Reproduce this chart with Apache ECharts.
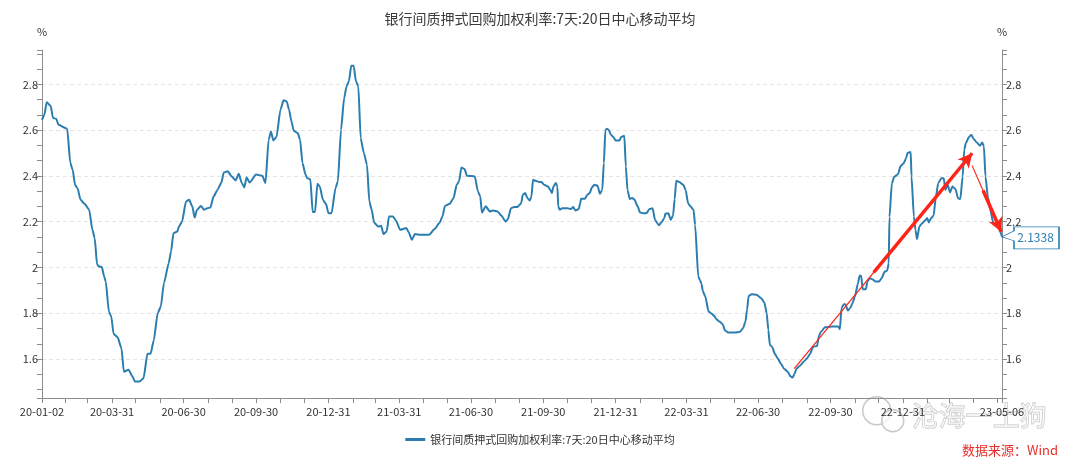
<!DOCTYPE html>
<html><head><meta charset="utf-8">
<script src="https://cdn.jsdelivr.net/npm/echarts@6/dist/echarts.min.js"></script>
<style>html,body{margin:0;padding:0;background:#fff}#c{width:1080px;height:464px}</style>
</head><body><div id="c"></div>
<script>
const seriesName = '银行间质押式回购加权利率:7天:20日中心移动平均';

const dates = [
'2020-01-02','2020-01-05','2020-01-08','2020-01-13','2020-01-16','2020-01-20','2020-01-23','2020-02-03','2020-02-07','2020-02-10',
'2020-02-13','2020-02-16','2020-02-20','2020-02-25','2020-03-02','2020-03-06','2020-03-09','2020-03-12','2020-03-15','2020-03-18',
'2020-03-21','2020-03-23','2020-03-27','2020-03-30','2020-04-02','2020-04-07','2020-04-12','2020-04-15','2020-04-21','2020-04-26',
'2020-04-29','2020-05-05','2020-05-10','2020-05-15','2020-05-19','2020-05-23','2020-05-28','2020-06-01','2020-06-05','2020-06-11',
'2020-06-14','2020-06-17','2020-06-22','2020-06-24','2020-06-28','2020-07-03','2020-07-07','2020-07-11','2020-07-14','2020-07-17',
'2020-07-22','2020-07-26','2020-07-30','2020-08-03','2020-08-07','2020-08-12','2020-08-17','2020-08-20','2020-08-25','2020-08-30',
'2020-09-04','2020-09-08','2020-09-12','2020-09-15','2020-09-18','2020-09-22','2020-09-30','2020-10-08','2020-10-12','2020-10-16',
'2020-10-19','2020-10-22','2020-10-26','2020-10-31','2020-11-04','2020-11-08','2020-11-11','2020-11-14','2020-11-17','2020-11-22',
'2020-11-25','2020-11-28','2020-12-02','2020-12-04','2020-12-08','2020-12-11','2020-12-14','2020-12-17','2020-12-20','2020-12-24',
'2020-12-28','2020-12-31',
'2021-01-04','2021-01-09','2021-01-12','2021-01-16','2021-01-20','2021-01-23','2021-01-26','2021-01-29','2021-02-01','2021-02-04',
'2021-02-07','2021-02-10','2021-02-14','2021-02-18','2021-02-21','2021-02-24','2021-02-27','2021-03-04','2021-03-08','2021-03-11',
'2021-03-15','2021-03-18','2021-03-23','2021-03-27','2021-04-01','2021-04-09','2021-04-12','2021-04-16','2021-04-20','2021-04-27',
'2021-05-02','2021-05-08','2021-05-15','2021-05-21','2021-05-25','2021-05-28','2021-06-03','2021-06-08','2021-06-12','2021-06-15',
'2021-06-18','2021-06-22','2021-06-25','2021-07-05','2021-07-09','2021-07-12','2021-07-14','2021-07-19','2021-07-24','2021-07-28',
'2021-08-03','2021-08-08','2021-08-13','2021-08-16','2021-08-20','2021-08-24','2021-08-28','2021-08-31','2021-09-02','2021-09-04',
'2021-09-07','2021-09-10','2021-09-13','2021-09-15','2021-09-17','2021-09-20','2021-09-25','2021-09-28','2021-10-01','2021-10-06',
'2021-10-09','2021-10-11','2021-10-13','2021-10-16','2021-10-18','2021-10-19','2021-10-21','2021-10-24','2021-10-31','2021-11-04',
'2021-11-07','2021-11-10','2021-11-14','2021-11-16','2021-11-17','2021-11-22','2021-11-25','2021-11-28','2021-12-01','2021-12-04',
'2021-12-08','2021-12-11','2021-12-14','2021-12-16','2021-12-18','2021-12-20','2021-12-22','2021-12-25','2021-12-28','2021-12-31',
'2022-01-05','2022-01-07','2022-01-11','2022-01-13','2022-01-15','2022-01-18','2022-01-21','2022-01-24','2022-01-28','2022-01-31',
'2022-02-04','2022-02-08','2022-02-12','2022-02-16','2022-02-19','2022-02-24','2022-02-27','2022-03-03','2022-03-04','2022-03-08',
'2022-03-11','2022-03-14','2022-03-16','2022-03-18','2022-03-22','2022-03-27','2022-03-30','2022-04-02','2022-04-05','2022-04-09',
'2022-04-11','2022-04-15','2022-04-17','2022-04-19','2022-04-21','2022-04-24','2022-04-28','2022-05-02','2022-05-05','2022-05-08',
'2022-05-12','2022-05-16','2022-05-19','2022-05-23','2022-06-01','2022-06-07','2022-06-11','2022-06-14','2022-06-16','2022-06-18',
'2022-06-22','2022-06-28','2022-07-04','2022-07-08','2022-07-11','2022-07-13','2022-07-15','2022-07-18','2022-07-21','2022-07-25',
'2022-07-29','2022-08-02','2022-08-07','2022-08-10','2022-08-13','2022-08-15','2022-08-18','2022-08-22','2022-08-27','2022-08-31',
'2022-09-04','2022-09-08','2022-09-13','2022-09-15','2022-09-18','2022-09-23','2022-10-02','2022-10-10','2022-10-12','2022-10-14',
'2022-10-17','2022-10-19','2022-10-22','2022-10-25','2022-10-28','2022-10-31','2022-11-04','2022-11-06','2022-11-08','2022-11-10',
'2022-11-14','2022-11-16','2022-11-19','2022-11-22','2022-11-26','2022-12-01','2022-12-04','2022-12-08','2022-12-11','2022-12-13',
'2022-12-14','2022-12-17','2022-12-20','2022-12-25','2022-12-28',
'2023-01-01','2023-01-04','2023-01-06','2023-01-10','2023-01-11','2023-01-14','2023-01-16','2023-01-18','2023-01-21','2023-01-24',
'2023-01-28','2023-01-31','2023-02-02','2023-02-05','2023-02-08','2023-02-11','2023-02-14','2023-02-18','2023-02-21','2023-02-23',
'2023-02-26','2023-03-01','2023-03-04','2023-03-08','2023-03-11','2023-03-14','2023-03-17','2023-03-19','2023-03-21','2023-03-25',
'2023-03-28','2023-03-31','2023-04-04','2023-04-08','2023-04-11','2023-04-13','2023-04-15','2023-04-18','2023-04-21','2023-04-25',
'2023-04-30','2023-05-03','2023-05-06'
];

const rates = [
2.645,2.667,2.722,2.706,2.653,2.650,2.623,2.606,2.456,2.427,
2.361,2.347,2.296,2.278,2.252,2.165,2.128,2.012,2.004,2.002,
1.961,1.939,1.808,1.786,1.710,1.696,1.647,1.545,1.553,1.524,
1.502,1.502,1.516,1.623,1.623,1.681,1.800,1.830,1.932,2.019,
2.070,2.150,2.157,2.179,2.201,2.288,2.296,2.267,2.218,2.252,
2.269,2.252,2.259,2.262,2.310,2.339,2.371,2.415,2.420,2.398,
2.380,2.409,2.369,2.350,2.393,2.371,2.406,2.401,2.369,2.558,
2.594,2.555,2.570,2.689,2.730,2.725,2.689,2.638,2.597,2.587,
2.558,2.456,2.405,2.390,2.386,2.242,2.242,2.366,2.354,2.296,
2.277,2.237,
2.237,2.347,2.376,2.602,2.740,2.791,2.813,2.881,2.881,2.813,
2.791,2.565,2.500,2.449,2.288,2.252,2.197,2.179,2.182,2.146,
2.157,2.223,2.223,2.204,2.165,2.172,2.154,2.121,2.146,2.143,
2.143,2.143,2.168,2.194,2.223,2.269,2.278,2.303,2.361,2.376,
2.437,2.430,2.401,2.398,2.332,2.310,2.240,2.267,2.245,2.249,
2.245,2.226,2.201,2.211,2.259,2.264,2.264,2.274,2.281,2.318,
2.325,2.303,2.293,2.310,2.383,2.379,2.373,2.373,2.361,2.354,
2.339,2.325,2.354,2.369,2.354,2.267,2.252,2.259,2.259,2.255,
2.264,2.249,2.255,2.281,2.300,2.300,2.318,2.325,2.351,2.361,
2.357,2.322,2.339,2.456,2.602,2.606,2.602,2.580,2.570,2.555,
2.555,2.570,2.575,2.441,2.339,2.299,2.304,2.296,2.267,2.240,
2.237,2.237,2.255,2.259,2.208,2.184,2.197,2.216,2.235,2.237,
2.208,2.227,2.299,2.379,2.373,2.361,2.339,2.281,2.267,2.252,
2.186,1.961,1.946,1.929,1.895,1.873,1.808,1.798,1.790,1.774,
1.764,1.752,1.725,1.716,1.716,1.719,1.735,1.764,1.815,1.876,
1.883,1.881,1.866,1.847,1.800,1.728,1.662,1.653,1.625,1.603,
1.580,1.558,1.544,1.525,1.519,1.534,1.559,1.570,1.589,1.603,
1.622,1.654,1.657,1.698,1.719,1.739,1.742,1.742,1.730,1.822,
1.840,1.840,1.812,1.822,1.844,1.872,1.931,1.964,1.964,1.905,
1.905,1.939,1.953,1.949,1.939,1.939,1.953,1.982,1.986,2.017,
2.221,2.367,2.396,2.408,2.443,
2.455,2.476,2.501,2.504,2.397,2.223,2.165,2.124,2.179,2.191,
2.205,2.216,2.197,2.216,2.226,2.310,2.369,2.390,2.390,2.339,
2.361,2.328,2.354,2.342,2.303,2.299,2.397,2.514,2.543,2.570,
2.580,2.561,2.546,2.532,2.546,2.529,2.397,2.310,2.252,2.194,
2.179,2.165,2.1338
];

const xLabelDates = ['2020-01-02','2020-03-31','2020-06-30','2020-09-30','2020-12-31','2021-03-31','2021-06-30',
  '2021-09-30','2021-12-31','2022-03-31','2022-06-30','2022-09-30','2022-12-31','2023-05-06'];
const xTickDates = ['2020-01-02','2020-01-31','2020-02-29','2020-03-31','2020-04-30','2020-05-31','2020-06-30','2020-07-31',
  '2020-08-31','2020-09-30','2020-10-31','2020-11-30','2020-12-31','2021-01-31','2021-02-28','2021-03-31','2021-04-30',
  '2021-05-31','2021-06-30','2021-07-31','2021-08-31','2021-09-30','2021-10-31','2021-11-30','2021-12-31','2022-01-31',
  '2022-02-28','2022-03-31','2022-04-30','2022-05-31','2022-06-30','2022-07-31','2022-08-31','2022-09-30','2022-10-31',
  '2022-11-30','2022-12-31','2023-01-31','2023-02-28','2023-03-31','2023-04-30','2023-05-06'];

// annotation arrows: [start, taperPoint, end] as [date, value]
const arrowUp = [['2022-08-15', 1.558], ['2022-11-24', 1.979], ['2023-03-29', 2.499]];
const arrowDown = [['2023-03-29', 2.445], ['2023-04-12', 2.336], ['2023-05-05', 2.156]];

const sourceText = '数据来源：Wind';
const watermarkText = '沧海一土狗';

function ts(s) { const p = s.split('-').map(Number); return new Date(p[0], p[1] - 1, p[2]).getTime(); }
function fmtDate(v) {
  const d = new Date(v);
  const p = n => (n < 10 ? '0' : '') + n;
  return p(d.getFullYear() % 100) + '-' + p(d.getMonth() + 1) + '-' + p(d.getDate());
}

const LINE = '#2b7db0';
const RED = '#ff2418';
const AX = '#8c8c8c';
const FONT = '"Noto Sans CJK SC", "Noto Sans", sans-serif';

const seriesData = dates.map((d, i) => [ts(d), rates[i]]);
const last = seriesData[seriesData.length - 1];
const pt = a => [ts(a[0]), a[1]];

function yAxisCfg(pos) {
  return {
    type: 'value', position: pos, min: 1.43, max: 2.95, splitNumber: 7, minInterval: 0.2, maxInterval: 0.2,
    name: '%', nameGap: 13, nameTextStyle: { color: '#333', fontSize: 11 },
    axisLine: { show: true, lineStyle: { color: AX } },
    axisTick: { show: true, length: 5, lineStyle: { color: AX } },
    minorTick: { show: true, splitNumber: 3, length: 5, lineStyle: { color: AX } },
    axisLabel: { color: '#333', fontSize: 11, margin: 4, showMinLabel: false, showMaxLabel: false },
    splitLine: pos === 'left'
      ? { show: true, showMinLine: false, showMaxLine: false, lineStyle: { color: '#e4e4e4', type: [4, 3] } }
      : { show: false }
  };
}

const chart = echarts.init(document.getElementById('c'), null, { renderer: 'canvas' });
chart.setOption({
  animation: false,
  backgroundColor: '#fff',
  textStyle: { fontFamily: FONT },
  title: { text: seriesName, left: 'center', top: 7, textStyle: { fontSize: 14, fontWeight: 'normal', color: '#3a3a3a' } },
  legend: { data: [seriesName], top: 429, left: 'center', icon: 'rect', itemWidth: 20, itemHeight: 3,
    textStyle: { fontSize: 11, color: '#333' } },
  grid: { left: 42, right: 78, top: 50, bottom: 66, containLabel: false },
  xAxis: {
    type: 'value', min: ts('2020-01-02'), max: ts('2023-05-06'), scale: true,
    axisLine: { show: true, onZero: false, lineStyle: { color: AX } },
    axisTick: { show: true, length: 5, customValues: xTickDates.map(ts), lineStyle: { color: AX } },
    axisLabel: { customValues: xLabelDates.map(ts), formatter: v => fmtDate(v), color: '#333', fontSize: 11, margin: 8, hideOverlap: false },
    splitLine: { show: false }
  },
  yAxis: [yAxisCfg('left'), yAxisCfg('right')],
  series: [{
    name: seriesName, type: 'line', yAxisIndex: 0, data: seriesData, showSymbol: false,
    smooth: 0.2, smoothMonotone: 'x',
    lineStyle: { color: LINE, width: 2 }, itemStyle: { color: LINE },
    markPoint: {
      silent: true,
      symbol: 'path://M0,10 L12,4 L12,0 L57,0 L57,22 L12,22 L12,14 Z',
      symbolSize: [57, 22], symbolOffset: [28.5, 1], symbolKeepAspect: false,
      itemStyle: { color: '#fff', borderColor: LINE, borderWidth: 1 },
      label: { show: true, position: 'inside', offset: [5, 0], color: LINE, fontSize: 12, formatter: p => Number(p.value).toFixed(4) },
      data: [{ coord: last, value: last[1] }]
    },
    markLine: {
      silent: true, animation: false,
      label: { show: false },
      emphasis: { disabled: true },
      lineStyle: { color: RED, type: 'solid' },
      data: [
        [{ coord: pt(arrowUp[0]), symbol: 'none', lineStyle: { width: 1.2, color: RED, type: 'solid' } },
         { coord: pt(arrowUp[2]), symbol: 'none' }],
        [{ coord: pt(arrowUp[1]), symbol: 'none', lineStyle: { width: 3.5, color: RED, type: 'solid' } },
         { coord: pt(arrowUp[2]), symbol: 'arrow', symbolSize: [11, 14] }],
        [{ coord: pt(arrowDown[0]), symbol: 'none', lineStyle: { width: 1.2, color: RED, type: 'solid' } },
         { coord: pt(arrowDown[2]), symbol: 'none' }],
        [{ coord: pt(arrowDown[1]), symbol: 'none', lineStyle: { width: 3.5, color: RED, type: 'solid' } },
         { coord: pt(arrowDown[2]), symbol: 'arrow', symbolSize: [11, 14] }]
      ]
    }
  }],
  graphic: [
    { type: 'text', right: 22, top: 444, silent: true,
      style: { text: sourceText, fill: '#e8302a', fontSize: 13, fontFamily: FONT } },
    { type: 'group', left: 862, top: 396, silent: true, z: 100, children: [
      { type: 'circle', shape: { cx: 17, cy: 15, r: 14 }, style: { fill: 'rgba(255,255,255,0.7)', stroke: '#c9c9c9', lineWidth: 1.5 } },
      { type: 'circle', shape: { cx: 33, cy: 25, r: 11 }, style: { fill: 'rgba(255,255,255,0.7)', stroke: '#c9c9c9', lineWidth: 1.5 } },
      { type: 'text', x: 52, y: 6, style: { text: watermarkText, fontSize: 27, fontFamily: FONT,
        fill: 'rgba(255,255,255,0.55)', stroke: '#c2c2c2', lineWidth: 1 } }
    ] }
  ]
});
</script></body></html>
